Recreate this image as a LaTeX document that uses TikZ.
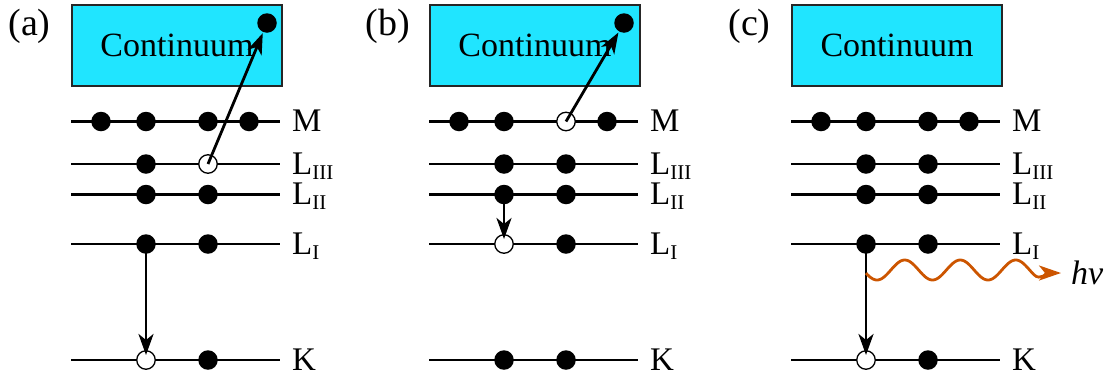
\documentclass[tikz,border=0pt]{standalone}
\usepackage{fontspec}
\setmainfont{Liberation Serif}
\newfontfamily\timesfont{Liberation Serif}
\usetikzlibrary{arrows.meta}
\definecolor{contcyan}{RGB}{32,229,255}
\definecolor{photon}{RGB}{204,85,0}
\newcommand\lsub[1]{\raisebox{-5pt}{\fontsize{21}{21}\selectfont #1}}
\begin{document}
\begin{tikzpicture}[x=1pt,y=-1pt,
  lvline/.style={line width=2.2pt},
  fdot/.style={circle,fill=black,inner sep=0pt,minimum size=19.5pt},
  hdot/.style={circle,fill=white,draw=black,line width=1.3pt,inner sep=0pt,minimum size=18.5pt},
  contbox/.style={draw=black!85,line width=2.2pt,fill=contcyan,minimum width=210pt,minimum height=81pt,inner sep=0pt,font=\timesfont\fontsize{34}{34}\selectfont},
  lvllabel/.style={anchor=base west,inner sep=0pt,font=\timesfont\fontsize{33}{33}\selectfont},
  panellabel/.style={anchor=base,inner sep=0pt,font=\timesfont\fontsize{38}{38}\selectfont},
  transarrow/.style={line width=2.8pt,-{Stealth[length=21pt,width=15pt,inset=6pt]}},
  photonwave/.style={draw=photon,line width=2.8pt,-{Stealth[length=22pt,width=15pt,inset=6pt]}},
]
\useasboundingbox (0,0) rectangle (1115,381);

% panels: boxes, levels, labels
\foreach \p/\dx in {a/0,b/358,c/720}{
  \node[contbox] (\p-box) at (177+\dx,45.5) {Continuum};
  \foreach \lv/\yy/\txt in {M/121.5/M, L3/164/L\lsub{III}, L2/194.5/L\lsub{II}, L1/244/L\lsub{I}, K/360/K}{
    \coordinate (\p-\lv-l) at (71+\dx,\yy);
    \coordinate (\p-\lv-r) at (280+\dx,\yy);
    \draw[lvline] (\p-\lv-l) -- (\p-\lv-r);
    \node[lvllabel] (\p-\lv-lab) at (292+\dx,\yy+10) {\txt};
  }
}
\node[panellabel] (a-tag) at (29.5,35) {(a)};
\node[panellabel] (b-tag) at (387.5,35) {(b)};
\node[panellabel] (c-tag) at (749.5,35) {(c)};

% panel (a)
\node[fdot] (a-M-1) at (101,121.5) {};
\node[fdot] (a-M-2) at (146,121.5) {};
\node[fdot] (a-M-3) at (208,121.5) {};
\node[fdot] (a-M-4) at (249,121.5) {};
\node[fdot] (a-L3-1) at (146,164) {};
\node[hdot] (a-L3-2) at (208,164) {};
\node[fdot] (a-L2-1) at (146,194.5) {};
\node[fdot] (a-L2-2) at (208,194.5) {};
\node[fdot] (a-L1-1) at (146,244) {};
\node[fdot] (a-L1-2) at (208,244) {};
\node[hdot] (a-K-1) at (146,360) {};
\node[fdot] (a-K-2) at (208,360) {};
\node[fdot] (a-e) at (267,23) {};
\draw[transarrow,shorten >=11pt] (a-L3-2.center) -- (a-e.center);
\draw[transarrow,shorten >=5pt] (a-L1-1.center) -- (a-K-1.center);

% panel (b)
\node[fdot] (b-M-1) at (459,121.5) {};
\node[fdot] (b-M-2) at (504,121.5) {};
\node[hdot] (b-M-3) at (566,121.5) {};
\node[fdot] (b-M-4) at (607,121.5) {};
\node[fdot] (b-L3-1) at (504,164) {};
\node[fdot] (b-L3-2) at (566,164) {};
\node[fdot] (b-L2-1) at (504,194.5) {};
\node[fdot] (b-L2-2) at (566,194.5) {};
\node[hdot] (b-L1-1) at (504,244) {};
\node[fdot] (b-L1-2) at (566,244) {};
\node[fdot] (b-K-1) at (504,360) {};
\node[fdot] (b-K-2) at (566,360) {};
\node[fdot] (b-e) at (624,23) {};
\draw[transarrow,shorten >=11pt] (b-M-3.center) -- (b-e.center);
\draw[transarrow,shorten >=5pt] (b-L2-1.center) -- (b-L1-1.center);

% panel (c)
\node[fdot] (c-M-1) at (821,121.5) {};
\node[fdot] (c-M-2) at (866,121.5) {};
\node[fdot] (c-M-3) at (928,121.5) {};
\node[fdot] (c-M-4) at (969,121.5) {};
\node[fdot] (c-L3-1) at (866,164) {};
\node[fdot] (c-L3-2) at (928,164) {};
\node[fdot] (c-L2-1) at (866,194.5) {};
\node[fdot] (c-L2-2) at (928,194.5) {};
\node[fdot] (c-L1-1) at (866,244) {};
\node[fdot] (c-L1-2) at (928,244) {};
\node[hdot] (c-K-1) at (866,360) {};
\node[fdot] (c-K-2) at (928,360) {};
\draw[transarrow,shorten >=5pt] (c-L1-1.center) -- (c-K-1.center);

% photon
\node[anchor=base west,inner sep=0pt,font=\timesfont\fontsize{34}{34}\selectfont\itshape] (hv) at (1071,284) {hν};
\coordinate (hv-end) at (1061,273);
\draw[photonwave] plot[domain=866:1034,samples=120] (\x,{270+10*cos((\x-877)/55.5*360)})
  .. controls (1040,281) and (1048,273) .. (hv-end);
\end{tikzpicture}
\end{document}
